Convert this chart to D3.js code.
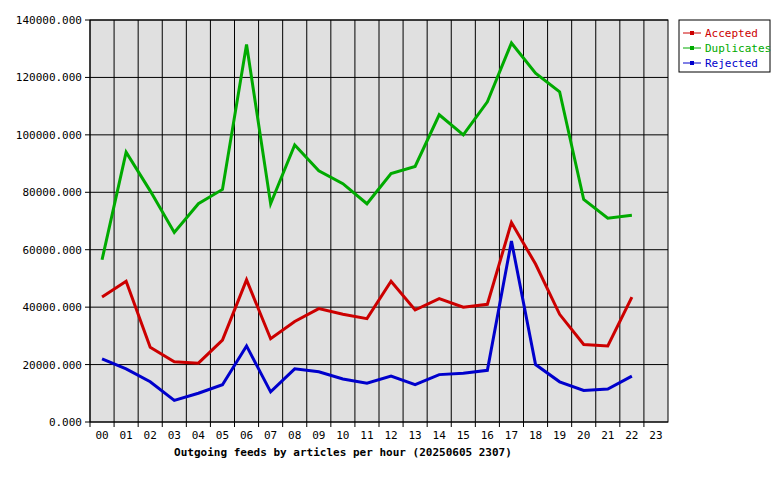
<!DOCTYPE html>
<html lang="en">
<head>
<meta charset="UTF-8">
<script src="https://d3js.org/d3.v7.min.js"></script>
<style>
  body { margin: 0; background: #fff; }
  text { font-family: "DejaVu Sans Mono", monospace; font-size: 11px; }
</style>
</head>
<body>
<svg width="780" height="480"></svg>
<script>
// hours 00..23
const hours = d3.range(24).map(h => String(h).padStart(2, "0"));
const accepted = [43500, 49000, 26000, 21000, 20500, 28500, 49500, 29000, 35000, 39500, 37500, 36000,
  49000, 39000, 43000, 40000, 41000, 69500, 55000, 37500, 27000, 26500, 43500];
const duplicates = [56500, 94000, 80500, 66000, 76000, 81000, 131500, 76000, 96500, 87500, 83000, 76000,
  86500, 89000, 107000, 100000, 111500, 132000, 121500, 115000, 77500, 71000, 72000];
const rejected = [22000, 18500, 14000, 7500, 10000, 13000, 26500, 10500, 18500, 17500, 15000, 13500,
  16000, 13000, 16500, 17000, 18000, 63000, 20000, 14000, 11000, 11500, 16000];
const yTicks = [0, 20000, 40000, 60000, 80000, 100000, 120000, 140000];

const series = [
  { name: "Accepted", values: accepted, color: "#cc0000" },
  { name: "Duplicates", values: duplicates, color: "#00aa00" },
  { name: "Rejected", values: rejected, color: "#0000cc" }
];

const svg = d3.select("svg");
const plotL = 90, plotR = 668, plotT = 20, plotB = 422;

const x = d3.scaleBand().domain(hours).range([plotL, plotR]);
const y = d3.scaleLinear().domain([0, 140000]).range([plotB, plotT]);

svg.append("rect").attr("x", plotL).attr("y", plotT)
  .attr("width", plotR - plotL).attr("height", plotB - plotT)
  .attr("fill", "#e0e0e0").attr("stroke", "#000");

// grid
svg.append("g").selectAll("line").data(hours).enter().append("line")
  .attr("x1", d => x(d)).attr("x2", d => x(d))
  .attr("y1", plotT).attr("y2", plotB + 5).attr("stroke", "#000");
svg.append("g").selectAll("line").data(yTicks).enter().append("line")
  .attr("x1", plotL - 5).attr("x2", plotR)
  .attr("y1", d => y(d)).attr("y2", d => y(d)).attr("stroke", "#000");

svg.append("g").selectAll("text").data(yTicks).enter().append("text")
  .attr("x", plotL - 8).attr("y", d => y(d) + 4).attr("text-anchor", "end")
  .text(d => d + ".000");
svg.append("g").selectAll("text").data(hours).enter().append("text")
  .attr("x", d => x(d) + x.bandwidth() / 2).attr("y", plotB + 17).attr("text-anchor", "middle")
  .text(d => d);

svg.append("text").attr("x", 343).attr("y", 456).attr("text-anchor", "middle")
  .style("font-weight", "bold")
  .text("Outgoing feeds by articles per hour (20250605 2307)");

const line = d3.line().x((d, i) => x(hours[i]) + x.bandwidth() / 2).y(d => y(d));
series.forEach(s => {
  svg.append("path").attr("d", line(s.values)).attr("fill", "none")
    .attr("stroke", s.color).attr("stroke-width", 3);
});

// legend
svg.append("rect").attr("x", 679).attr("y", 20).attr("width", 91).attr("height", 52)
  .attr("fill", "#fff").attr("stroke", "#000");
const lg = svg.append("g").selectAll("g").data(series).enter().append("g")
  .attr("transform", (d, i) => `translate(683, ${33 + i * 15})`);
lg.append("line").attr("x1", 0).attr("x2", 18).attr("y1", 0).attr("y2", 0)
  .attr("stroke", d => d.color).attr("stroke-width", 1);
lg.append("rect").attr("x", 7).attr("y", -2).attr("width", 4).attr("height", 4)
  .attr("fill", d => d.color);
lg.append("text").attr("x", 22).attr("y", 4).attr("fill", d => d.color).text(d => d.name);
</script>
</body>
</html>
